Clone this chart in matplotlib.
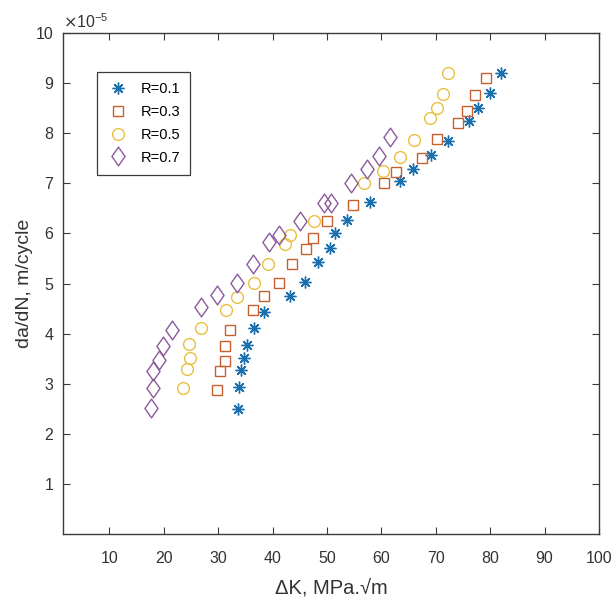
import matplotlib
matplotlib.use("Agg")
import matplotlib.pyplot as plt
from matplotlib.path import Path
import numpy as np

plt.rcParams['font.family'] = ['Liberation Sans', 'DejaVu Sans']

# Data (da/dN in units of 1e-5 m/cycle)
dk_r01 = [33.7, 33.9, 34.2, 34.7, 35.3, 36.6, 38.5, 43.2, 46.0, 48.4, 50.5, 51.4,
          53.7, 57.9, 63.5, 65.9, 69.1, 72.3, 76.1, 77.7, 80.0, 82.0]
da_r01 = [2.49, 2.93, 3.28, 3.52, 3.77, 4.12, 4.43, 4.75, 5.04, 5.42, 5.70, 6.01,
          6.26, 6.63, 7.04, 7.29, 7.56, 7.84, 8.25, 8.51, 8.80, 9.20]

dk_r03 = [29.8, 30.3, 31.2, 31.2, 32.2, 36.4, 38.5, 41.2, 43.5, 46.2, 47.5, 50.1,
          54.8, 60.5, 62.7, 67.5, 70.3, 74.1, 75.8, 77.3, 79.3]
da_r03 = [2.88, 3.25, 3.46, 3.76, 4.07, 4.48, 4.75, 5.01, 5.38, 5.69, 5.91, 6.24,
          6.56, 7.00, 7.23, 7.50, 7.88, 8.21, 8.44, 8.76, 9.11]

dk_r05 = [23.6, 24.2, 24.9, 24.6, 26.9, 31.4, 33.4, 36.5, 39.1, 42.3, 43.3, 47.7,
          56.8, 60.3, 63.5, 66.0, 69.0, 70.2, 71.3, 72.3]
da_r05 = [2.92, 3.29, 3.51, 3.79, 4.12, 4.48, 4.74, 5.01, 5.38, 5.78, 5.97, 6.24,
          7.01, 7.25, 7.53, 7.87, 8.30, 8.51, 8.78, 9.20]

dk_r07 = [17.7, 18.0, 18.1, 19.1, 19.9, 21.6, 26.8, 29.8, 33.4, 36.4, 39.3, 41.2,
          45.1, 49.5, 50.7, 54.4, 57.3, 59.5, 61.6]
da_r07 = [2.52, 2.91, 3.25, 3.48, 3.76, 4.08, 4.54, 4.78, 5.01, 5.38, 5.82, 5.97,
          6.24, 6.61, 6.61, 7.00, 7.29, 7.55, 7.93]

labels = ['R=0.1', 'R=0.3', 'R=0.5', 'R=0.7']
x_ticks = [10, 20, 30, 40, 50, 60, 70, 80, 90, 100]
y_ticks = [1, 2, 3, 4, 5, 6, 7, 8, 9, 10]

fig = plt.figure(figsize=(6.13, 6.01), dpi=100)
ax = fig.add_axes([0.103, 0.1115, 0.874, 0.8335])

diamond = Path([(0, 1), (0.7, 0), (0, -1), (-0.7, 0), (0, 1)],
               [Path.MOVETO, Path.LINETO, Path.LINETO, Path.LINETO, Path.CLOSEPOLY])

c1, c2, c3, c4 = '#1a6fae', '#c8602e', '#e8c040', '#8a5a9c'
ax.plot(dk_r01, da_r01, linestyle='none', marker=(8, 2, 0), ms=8.5, mew=1.0,
        color=c1, label=labels[0])
ax.plot(dk_r03, da_r03, linestyle='none', marker='s', ms=6.6, mew=1.0,
        mfc='none', mec=c2, label=labels[1])
ax.plot(dk_r05, da_r05, linestyle='none', marker='o', ms=8.5, mew=1.0,
        mfc='none', mec=c3, label=labels[2])
ax.plot(dk_r07, da_r07, linestyle='none', marker=diamond, ms=13.5, mew=1.0,
        mfc='none', mec=c4, label=labels[3])

ax.set_xlim(1.5, 100)
ax.set_ylim(0, 10)
ax.set_xticks(x_ticks)
ax.set_yticks(y_ticks)
ax.set_xticklabels([str(t) for t in x_ticks])
ax.set_yticklabels([str(t) for t in y_ticks])

for s in ax.spines.values():
    s.set_color('#3a3a3a')
    s.set_linewidth(1.0)
ax.tick_params(direction='in', top=True, right=True, length=5, width=0.8,
               colors='#3a3a3a', labelsize=11.5, labelcolor='#333333')
ax.tick_params(axis='x', pad=12)
ax.tick_params(axis='y', pad=7)

ax.text(0.0, 1.005, r'$\times\mathregular{10^{-5}}$', transform=ax.transAxes,
        fontsize=11.5, color='#333333', ha='left', va='bottom')

ax.set_xlabel('\u0394K, MPa.\u221am', fontsize=14.5, color='#333333', labelpad=9)
ax.set_ylabel('da/dN, m/cycle', fontsize=14, color='#333333', labelpad=2)

leg = ax.legend(loc='upper left', bbox_to_anchor=(0.063, 0.922), fancybox=False,
                framealpha=1, edgecolor='#3a3a3a', fontsize=10.5,
                handletextpad=0.8, borderpad=0.7, labelspacing=0.6,
                handlelength=1.5, borderaxespad=0)
leg.get_frame().set_linewidth(0.9)

fig.savefig('out.png', dpi=100)
